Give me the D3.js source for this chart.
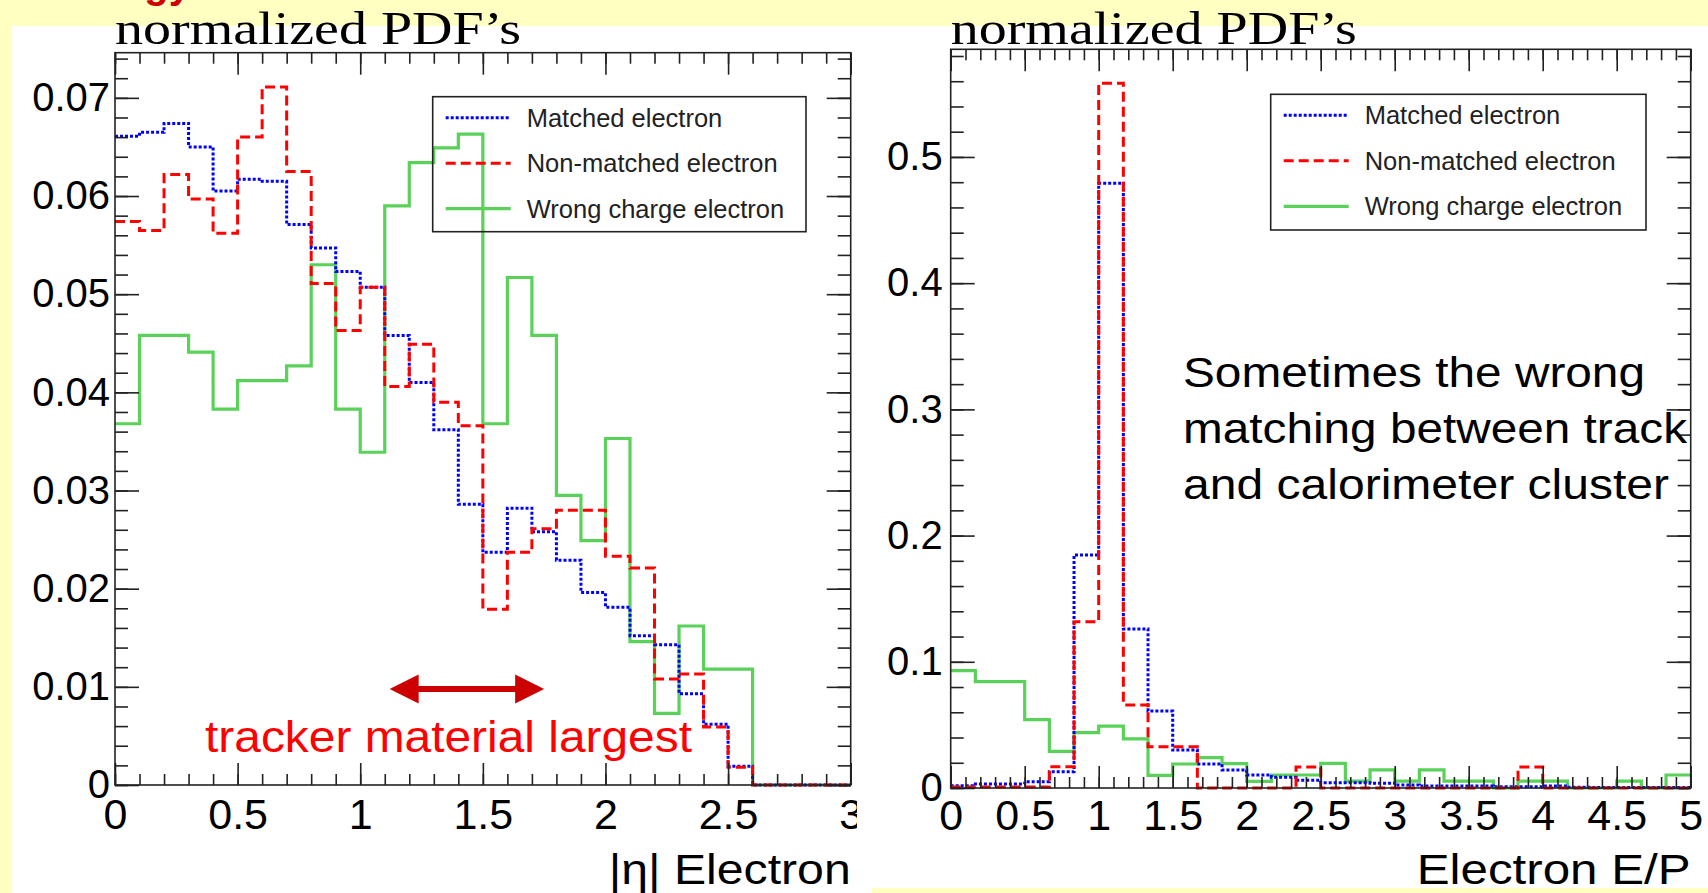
<!DOCTYPE html>
<html>
<head>
<meta charset="utf-8">
<script src="https://cdn.jsdelivr.net/npm/d3@7"></script>
<style>
    body { margin: 0; background: #FFFFC2; }
    svg { display: block; }
</style>
</head>
<body>
<div id="chart"></div>
<script>

// == DATA == //
const seriesNames = ["Matched electron", "Non-matched electron", "Wrong charge electron"];

// |eta| histograms, 30 bins from 0 to 3
const etaEdges = [0, 3];
const etaMatched = [0.0661, 0.0665, 0.0674, 0.0650, 0.0605, 0.0617, 0.0615, 0.0571, 0.0547, 0.0523,
    0.0507, 0.0458, 0.0410, 0.0362, 0.0286, 0.0237, 0.0282, 0.0258, 0.0229, 0.0196,
    0.0181, 0.0152, 0.0143, 0.0093, 0.0062, 0.0019, 0, 0, 0, 0];
const etaNonMatched = [0.0574, 0.0565, 0.0622, 0.0597, 0.0562, 0.0660, 0.0711, 0.0625, 0.0511, 0.0463,
    0.0507, 0.0406, 0.0449, 0.0390, 0.0366, 0.0179, 0.0237, 0.0261, 0.0280, 0.0280,
    0.0233, 0.0221, 0.0108, 0.0113, 0.0059, 0.0018, 0, 0, 0, 0];
const etaWrongCharge = [0.0368, 0.0458, 0.0458, 0.0441, 0.0383, 0.0412, 0.0412, 0.0427, 0.0530, 0.0383,
    0.0339, 0.0590, 0.0634, 0.0649, 0.0663, 0.0368, 0.0517, 0.0458, 0.0295, 0.0249,
    0.0353, 0.0146, 0.0073, 0.0162, 0.0118, 0.0118, 0, 0, 0, 0];

// E/P histograms, 30 bins from 0 to 5
const epEdges = [0, 5];
const epMatched = [0.0018, 0.0032, 0.0032, 0.0050, 0.0129, 0.1846, 0.4792, 0.1260, 0.0610, 0.0301,
    0.0190, 0.0143, 0.0103, 0.0085, 0.0062, 0.0042, 0.0042, 0.0037, 0.0024, 0.0016,
    0.0016, 0.0016, 0.0010, 0.0010, 0.0016, 0.0005, 0.0003, 0.0003, 0.0003, 0.0003];
const epNonMatched = [0.0008, 0.0008, 0.0008, 0.0008, 0.0169, 0.1318, 0.5584, 0.0658, 0.0327, 0.0327,
    0, 0, 0, 0, 0.0166, 0, 0, 0, 0, 0,
    0, 0, 0, 0.0166, 0, 0, 0, 0, 0, 0];
const epWrongCharge = [0.0930, 0.0843, 0.0843, 0.0542, 0.0290, 0.0438, 0.0490, 0.0390, 0.0100, 0.0190,
    0.0240, 0.0193, 0.0053, 0.0103, 0.0103, 0.0195, 0.0055, 0.0143, 0.0055, 0.0143,
    0.0055, 0.0055, 0, 0.0055, 0.0055, 0, 0, 0.0055, 0, 0.0103];

// tick labels
const etaTickValues = [0, 0.5, 1, 1.5, 2, 2.5, 3];
const etaTickLabels = ["0", "0.5", "1", "1.5", "2", "2.5", "3"];
const etaYTickValues = [0, 0.01, 0.02, 0.03, 0.04, 0.05, 0.06, 0.07];
const etaYTickLabels = ["0", "0.01", "0.02", "0.03", "0.04", "0.05", "0.06", "0.07"];
const epTickValues = [0, 0.5, 1, 1.5, 2, 2.5, 3, 3.5, 4, 4.5, 5];
const epTickLabels = ["0", "0.5", "1", "1.5", "2", "2.5", "3", "3.5", "4", "4.5", "5"];
const epYTickValues = [0, 0.1, 0.2, 0.3, 0.4, 0.5];
const epYTickLabels = ["0", "0.1", "0.2", "0.3", "0.4", "0.5"];

// styles for the three series
const seriesStyle = [
    {color: '#0000FF', dash: '3,2', width: 3},
    {color: '#FF0000', dash: '10,5', width: 3},
    {color: '#5AD25A', dash: null, width: 3.2}
];

const sansFont = "'Liberation Sans', Arial, Helvetica, sans-serif";
const serifFont = "'Liberation Serif', 'Times New Roman', serif";

// == SVG == //
const width = 1708, height = 893;
const svg = d3.select("#chart").append("svg")
    .attr("width", width)
    .attr("height", height)
    .attr("font-family", sansFont);

svg.append("rect").attr("width", width).attr("height", height).attr("fill", "#FFFFC2");

// white slide panels
svg.append("rect").attr("x", 12).attr("y", 26).attr("width", 860).attr("height", 867).attr("fill", "#fff");
svg.append("rect").attr("x", 872).attr("y", 26).attr("width", 836).attr("height", 862).attr("fill", "#fff");

// red heading of the slide, only its descenders are left in the picture
svg.append("text")
    .attr("x", 191).attr("y", -2)
    .attr("text-anchor", "end")
    .attr("font-size", "40px")
    .attr("font-weight", "bold")
    .attr("fill", "#CC0000")
    .text("Energy");

svg.append("defs").append("clipPath").attr("id", "leftClip")
    .append("rect").attr("x", 0).attr("y", 0).attr("width", 857).attr("height", height);

function drawPanel(cfg) {
    let g = svg.append("g");
    if (cfg.clip) g.attr("clip-path", "url(#" + cfg.clip + ")");

    let x = d3.scaleLinear().domain(cfg.xDomain).range([cfg.left, cfg.right]);
    let y = d3.scaleLinear().domain([0, cfg.yMax]).range([cfg.bottom, cfg.top]);

    // title
    g.append("text")
        .attr("x", cfg.left).attr("y", 44)
        .attr("font-family", serifFont)
        .attr("font-size", "47px")
        .attr("fill", "#000")
        .attr("textLength", 406)
        .attr("lengthAdjust", "spacingAndGlyphs")
        .text("normalized PDF\u2019s");

    // histograms: wrong charge, matched, non-matched on top
    let nb = cfg.series[0].length;
    let bw = (cfg.xDomain[1] - cfg.xDomain[0]) / nb;
    let line = d3.line()
        .x(d => x(d[0]))
        .y(d => y(d[1]))
        .curve(d3.curveStepAfter);

    [2, 0, 1].forEach(si => {
        let vals = cfg.series[si];
        let pts = vals.map((v, i) => [cfg.xDomain[0] + i * bw, v]);
        pts.push([cfg.xDomain[1], vals[nb - 1]]);
        let st = seriesStyle[si];
        g.append("path")
            .attr("d", line(pts))
            .attr("fill", "none")
            .attr("stroke", st.color)
            .attr("stroke-width", st.width)
            .attr("stroke-dasharray", st.dash);
    });

    // axes, ROOT style ticks inside the frame
    let xMinor = d3.range(cfg.xDomain[0], cfg.xDomain[1] + 1e-9, 0.1);
    let yMinor = d3.range(0, cfg.yMax, cfg.yMinorStep);

    function styleAxis(sel) {
        sel.attr("font-family", sansFont);
        sel.select(".domain").remove();
        sel.selectAll("line").attr("stroke", "#222").attr("stroke-width", 1.6);
        sel.selectAll("text").attr("fill", "#000");
    }

    // bottom
    g.append("g").attr("transform", `translate(0,${cfg.bottom})`)
        .call(d3.axisBottom(x).tickValues(xMinor).tickSize(-11).tickFormat(""))
        .call(styleAxis);
    g.append("g").attr("transform", `translate(0,${cfg.bottom})`)
        .call(d3.axisBottom(x).tickValues(cfg.xTicks).tickSize(-22).tickPadding(cfg.xPad)
            .tickFormat((d, i) => cfg.xLabels[i]))
        .call(styleAxis)
        .attr("font-size", "43px");
    // top
    g.append("g").attr("transform", `translate(0,${cfg.top})`)
        .call(d3.axisTop(x).tickValues(xMinor).tickSize(-11).tickFormat(""))
        .call(styleAxis);
    g.append("g").attr("transform", `translate(0,${cfg.top})`)
        .call(d3.axisTop(x).tickValues(cfg.xTicks).tickSize(-22).tickFormat(""))
        .call(styleAxis);
    // left
    g.append("g").attr("transform", `translate(${cfg.left},0)`)
        .call(d3.axisLeft(y).tickValues(yMinor).tickSize(-13).tickFormat(""))
        .call(styleAxis);
    g.append("g").attr("transform", `translate(${cfg.left},0)`)
        .call(d3.axisLeft(y).tickValues(cfg.yTicks).tickSize(-24).tickPadding(cfg.yPad)
            .tickFormat((d, i) => cfg.yLabels[i]))
        .call(styleAxis)
        .attr("font-size", "40px");
    // right
    g.append("g").attr("transform", `translate(${cfg.right},0)`)
        .call(d3.axisRight(y).tickValues(yMinor).tickSize(-13).tickFormat(""))
        .call(styleAxis);
    g.append("g").attr("transform", `translate(${cfg.right},0)`)
        .call(d3.axisRight(y).tickValues(cfg.yTicks).tickSize(-24).tickFormat(""))
        .call(styleAxis);

    // frame
    g.append("rect")
        .attr("x", cfg.left).attr("y", cfg.top)
        .attr("width", cfg.right - cfg.left).attr("height", cfg.bottom - cfg.top)
        .attr("fill", "none").attr("stroke", "#222").attr("stroke-width", 1.6);

    // x axis title
    g.append("text")
        .attr("x", cfg.right).attr("y", 884)
        .attr("text-anchor", "end")
        .attr("font-size", "43px")
        .attr("textLength", cfg.titleLength)
        .attr("lengthAdjust", "spacingAndGlyphs")
        .text(cfg.xTitle);

    // legend
    let lg = cfg.legend;
    g.append("rect")
        .attr("x", lg.x).attr("y", lg.y).attr("width", lg.w).attr("height", lg.h)
        .attr("fill", "none").attr("stroke", "#222").attr("stroke-width", 1.6);
    seriesNames.forEach((name, i) => {
        let ry = lg.y + 21 + i * 45.5;
        let st = seriesStyle[i];
        g.append("line")
            .attr("x1", lg.x + 13).attr("x2", lg.x + 78)
            .attr("y1", ry).attr("y2", ry)
            .attr("stroke", st.color).attr("stroke-width", st.width)
            .attr("stroke-dasharray", st.dash);
        g.append("text")
            .attr("x", lg.x + 94).attr("y", ry + 9)
            .attr("font-size", "25.5px")
            .attr("fill", "#222")
            .text(name);
    });

    return {x: x, y: y, g: g};
}

let left = drawPanel({
    left: 115, right: 850.7, top: 52.7, bottom: 785,
    xDomain: etaEdges, yMax: 0.0746, yMinorStep: 0.002,
    series: [etaMatched, etaNonMatched, etaWrongCharge],
    xTicks: etaTickValues, xLabels: etaTickLabels,
    yTicks: etaYTickValues, yLabels: etaYTickLabels,
    xPad: 13, yPad: 5,
    xTitle: "|\u03B7| Electron", titleLength: 242,
    legend: {x: 432.7, y: 96.7, w: 373.3, h: 135},
    clip: "leftClip"
});

let right = drawPanel({
    left: 950.7, right: 1690.7, top: 49.3, bottom: 788,
    xDomain: epEdges, yMax: 0.5853, yMinorStep: 0.02,
    series: [epMatched, epNonMatched, epWrongCharge],
    xTicks: epTickValues, xLabels: epTickLabels,
    yTicks: epYTickValues, yLabels: epYTickLabels,
    xPad: 11, yPad: 8,
    xTitle: "Electron E/P", titleLength: 274,
    legend: {x: 1270.7, y: 94.3, w: 375.3, h: 135.7}
});

// == ANNOTATIONS == //
// double arrow over the tracker material region, |eta| ~ 1.1 - 1.75
let ax1 = left.x(1.12), ax2 = left.x(1.75), ay = 689;
let ah = 29, aw = 14.5, sw = 3;
svg.append("path")
    .attr("d", `M${ax1},${ay} L${ax1 + ah},${ay - aw} L${ax1 + ah},${ay - sw} L${ax2 - ah},${ay - sw}
        L${ax2 - ah},${ay - aw} L${ax2},${ay} L${ax2 - ah},${ay + aw} L${ax2 - ah},${ay + sw}
        L${ax1 + ah},${ay + sw} L${ax1 + ah},${ay + aw} Z`)
    .attr("fill", "#CC0000");

svg.append("text")
    .attr("x", 205).attr("y", 752)
    .attr("font-size", "44px")
    .attr("fill", "#FF0000")
    .attr("textLength", 487)
    .attr("lengthAdjust", "spacingAndGlyphs")
    .text("tracker material largest");

let noteLines = ["Sometimes the wrong", "matching between track", "and calorimeter cluster"];
let noteLengths = [462, 504, 486];
noteLines.forEach((t, i) => {
    svg.append("text")
        .attr("x", 1183).attr("y", 387 + i * 56)
        .attr("font-size", "43px")
        .attr("fill", "#000")
        .attr("textLength", noteLengths[i])
        .attr("lengthAdjust", "spacingAndGlyphs")
        .text(t);
});

</script>
</body>
</html>
